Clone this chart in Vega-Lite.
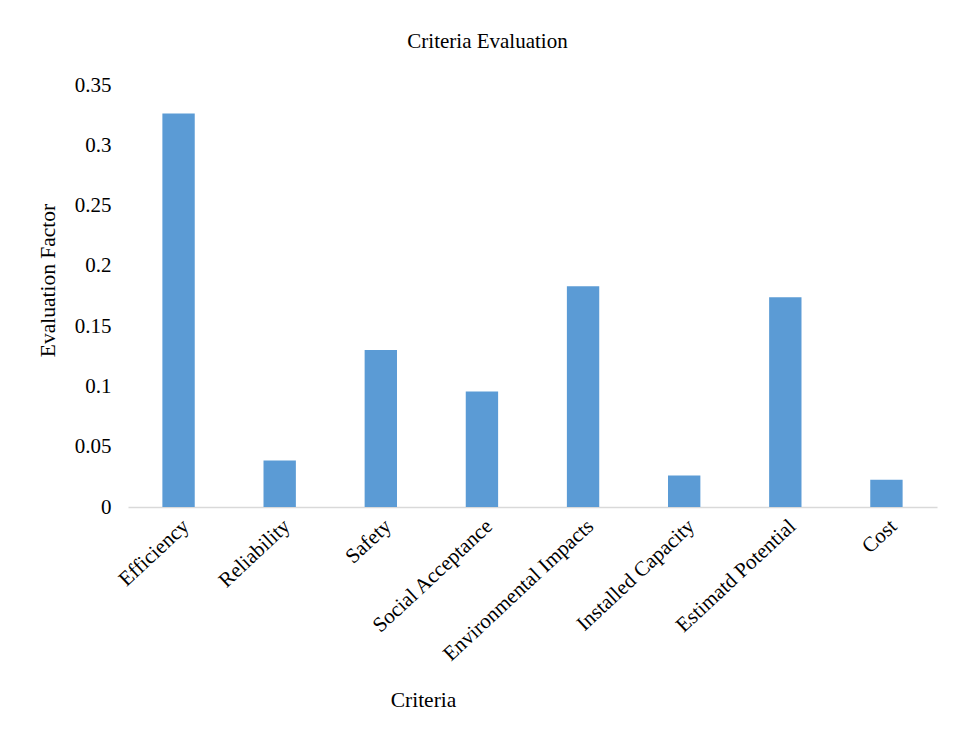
{
  "$schema": "https://vega.github.io/schema/vega-lite/v6.json",
  "autosize": {"type": "none"},
  "width": 809,
  "height": 422,
  "padding": {"left": 128, "top": 85, "right": 19, "bottom": 231},
  "background": "#ffffff",
  "title": {
    "text": "Criteria Evaluation",
    "font": "Liberation Serif",
    "fontSize": 21,
    "fontWeight": "normal",
    "color": "#000000",
    "anchor": "middle",
    "dx": -45,
    "offset": 22
  },
  "data": {
    "values": [
      {"criterion": "Efficiency", "factor": 0.3264},
      {"criterion": "Reliability", "factor": 0.0386},
      {"criterion": "Safety", "factor": 0.1302},
      {"criterion": "Social Acceptance", "factor": 0.0958},
      {"criterion": "Environmental Impacts", "factor": 0.1830},
      {"criterion": "Installed Capacity", "factor": 0.0262},
      {"criterion": "Estimatd Potential", "factor": 0.1740},
      {"criterion": "Cost", "factor": 0.0226}
    ]
  },
  "mark": {"type": "bar", "color": "#5B9BD5"},
  "encoding": {
    "x": {
      "field": "criterion",
      "type": "nominal",
      "sort": null,
      "scale": {"paddingInner": 0.68, "paddingOuter": 0.34},
      "axis": {
        "title": "Criteria",
        "titleFont": "Liberation Serif",
        "titleFontSize": 21.5,
        "titleFontWeight": "normal",
        "titleColor": "#000000",
        "titleX": 295,
        "titleY": 193,
        "titleBaseline": "middle",
        "labelAngle": -43,
        "labelAlign": "right",
        "labelBaseline": "top",
        "labelFont": "Liberation Serif",
        "labelFontSize": 21,
        "labelColor": "#000000",
        "labelPadding": 8,
        "labelLimit": 400,
        "ticks": false,
        "domainColor": "#D9D9D9",
        "domainWidth": 1.5
      }
    },
    "y": {
      "field": "factor",
      "type": "quantitative",
      "scale": {"domain": [0, 0.35], "nice": false},
      "axis": {
        "title": "Evaluation Factor",
        "titleFont": "Liberation Serif",
        "titleFontSize": 21.5,
        "titleFontWeight": "normal",
        "titleColor": "#000000",
        "titleAngle": -90,
        "titleX": -80,
        "titleY": 195,
        "titleAlign": "center",
        "titleBaseline": "middle",
        "values": [0, 0.05, 0.1, 0.15, 0.2, 0.25, 0.3, 0.35],
        "labelExpr": "datum.value == 0 ? '0' : format(datum.value, '.2~f')",
        "labelFont": "Liberation Serif",
        "labelFontSize": 21,
        "labelColor": "#000000",
        "labelPadding": 17,
        "ticks": false,
        "domain": false,
        "grid": false
      }
    }
  },
  "config": {"view": {"stroke": null}}
}
